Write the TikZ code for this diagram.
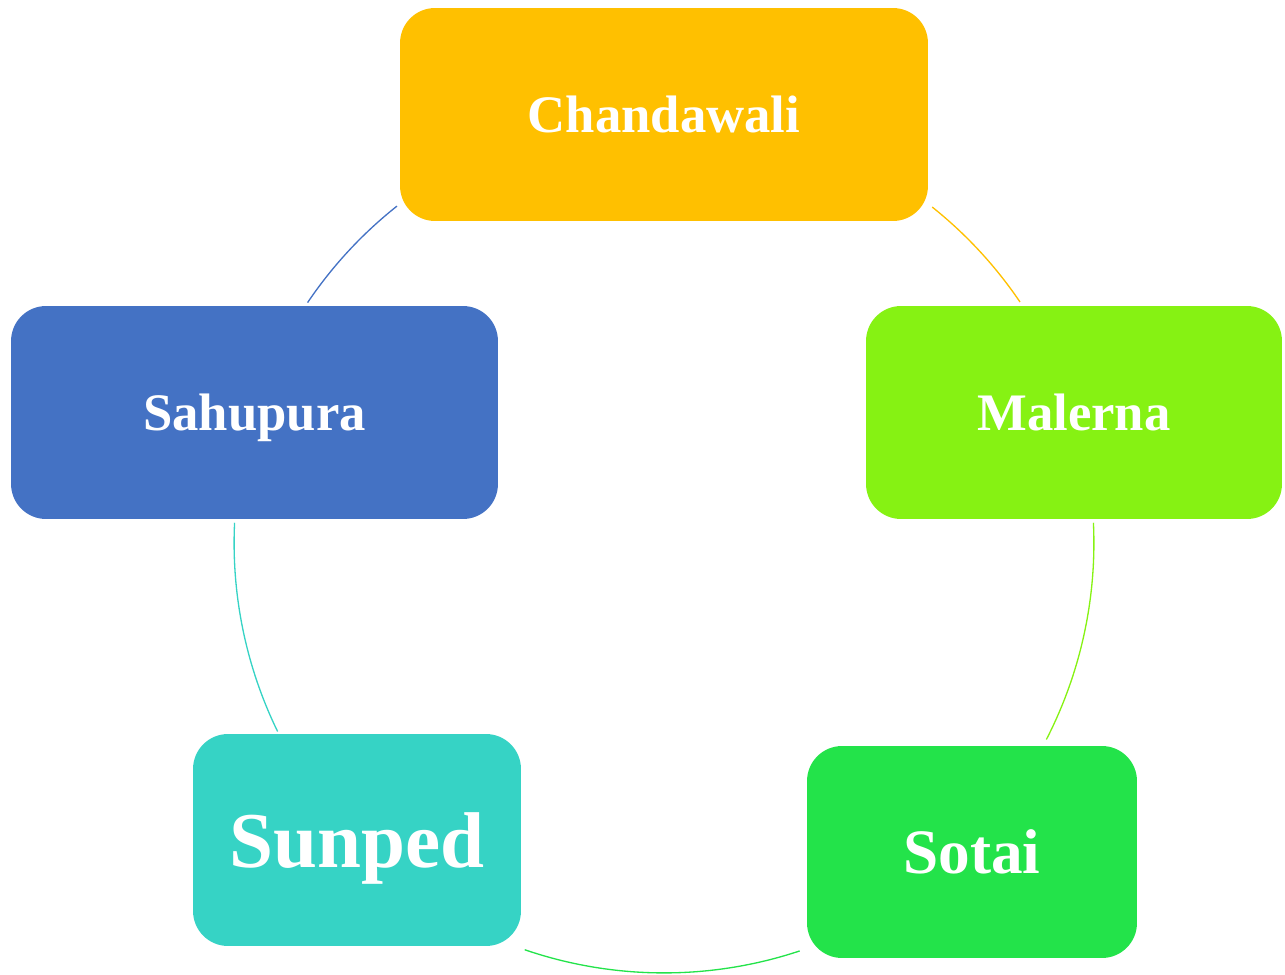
\documentclass[tikz,border=0pt]{standalone}
\usepackage{fontspec}
\setmainfont{Liberation Serif}
\definecolor{cgold}{HTML}{FFC000}
\definecolor{clime}{HTML}{86F213}
\definecolor{cgreen}{HTML}{23E34A}
\definecolor{cteal}{HTML}{36D3C5}
\definecolor{cblue}{HTML}{4472C4}
\tikzset{
  village/.style={rounded corners=0.7cm, text=white, inner sep=0pt, text depth=0pt,
    minimum height=4.26cm, font=\bfseries\fontsize{30}{36}\selectfont},
  ring/.style={line width=0.75pt}
}
\begin{document}
\begin{tikzpicture}[x=0.02cm,y=-0.02cm]
\useasboundingbox (0,0) rectangle (1285,974);

\coordinate (hub) at (664,543);

 \node[village, fill=cgold, minimum width=10.56cm] (chand) at (664,114.5) {Chandawali};
 \node[village, fill=clime, minimum width=8.32cm] (malerna) at (1074,412.5) {Malerna};
 \node[village, fill=cgreen, minimum width=6.6cm, minimum height=4.24cm,
   font=\bfseries\fontsize{36}{42}\selectfont] (sotai) at (972,852) {Sotai};
 \node[village, fill=cteal, minimum width=6.56cm, minimum height=4.24cm,
   font=\bfseries\fontsize{45}{52}\selectfont] (sunped) at (357,840) {Sunped};
 \node[village, fill=cblue, minimum width=9.74cm] (sahu) at (254.5,412.5) {Sahupura};

% cycle arcs round the hub
\draw[ring, cgold] ([shift={(51.4:8.6cm)}]hub) arc[start angle=51.4, end angle=34.1, radius=8.6cm];
\draw[ring, clime] ([shift={(2.7:8.6cm)}]hub) arc[start angle=2.7, end angle=-27.2, radius=8.6cm];
\draw[ring, cgreen] ([shift={(-71.6:8.6cm)}]hub) arc[start angle=-71.6, end angle=-108.9, radius=8.6cm];
\draw[ring, cteal] ([shift={(206:8.6cm)}]hub) arc[start angle=206, end angle=177.3, radius=8.6cm];
\draw[ring, cblue] ([shift={(146:8.6cm)}]hub) arc[start angle=146, end angle=128.4, radius=8.6cm];

\end{tikzpicture}
\end{document}
